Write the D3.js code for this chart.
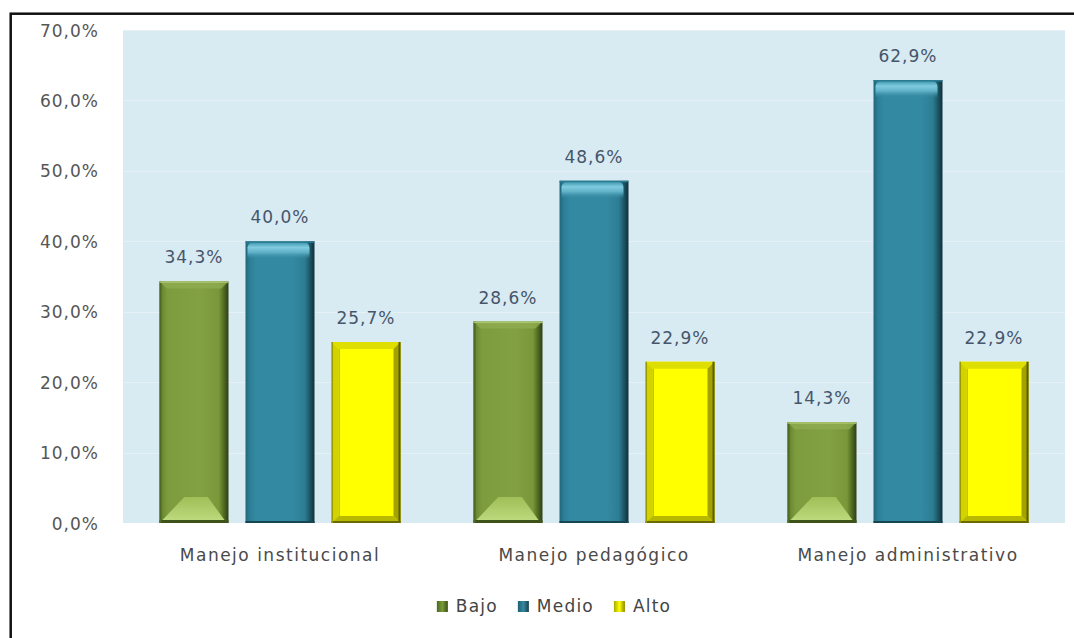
<!DOCTYPE html>
<html>
<head>
<meta charset="utf-8">
<script src="https://cdn.jsdelivr.net/npm/d3@7/dist/d3.min.js"></script>
<style>
  html, body { margin: 0; padding: 0; background: #ffffff; }
  svg { display: block; }
  text { font-family: "DejaVu Sans", Verdana, sans-serif; }
</style>
</head>
<body>
<svg id="chart" width="1074" height="638"></svg>
<script>
// Chart data
const categories = ["Manejo institucional", "Manejo pedagógico", "Manejo administrativo"];
const seriesNames = ["Bajo", "Medio", "Alto"];
const bajo = [34.3, 28.6, 14.3];
const medio = [40.0, 48.6, 62.9];
const alto = [25.7, 22.9, 22.9];
const yTicks = [0, 10, 20, 30, 40, 50, 60, 70];

const seriesValues = { Bajo: bajo, Medio: medio, Alto: alto };

const W = 1074, H = 638;
const plot = { left: 123, right: 1065, top: 30, bottom: 523 };

const svg = d3.select("#chart");
const defs = svg.append("defs");

const pct = v => d3.format(".1f")(v).replace(".", ",") + "%";

// Outer frame
svg.append("rect")
  .attr("x", 10.7).attr("y", 13.7)
  .attr("width", W + 20).attr("height", H + 20)
  .attr("fill", "#ffffff")
  .attr("stroke", "#111").attr("stroke-width", 2.5);

// Scales
const y = d3.scaleLinear().domain([0, 70]).range([plot.bottom, plot.top]);
const x0 = d3.scaleBand().domain(categories).range([plot.left, plot.right]).padding(0);
const x1 = d3.scaleBand().domain(seriesNames).range([0, x0.bandwidth()])
  .paddingInner(0.198).paddingOuter(0.4245);

// Plot background
svg.append("rect")
  .attr("x", plot.left).attr("y", plot.top)
  .attr("width", plot.right - plot.left).attr("height", plot.bottom - plot.top)
  .attr("fill", "#d8eaf2");

// Grid lines
svg.append("g")
  .selectAll("line")
  .data(yTicks.filter(t => t > 0))
  .join("line")
  .attr("x1", plot.left).attr("x2", plot.right)
  .attr("y1", d => Math.round(y(d)) + 0.5).attr("y2", d => Math.round(y(d)) + 0.5)
  .attr("stroke", "#e6f1f6").attr("stroke-width", 1);

const fontStack = "'DejaVu Sans', Verdana, sans-serif";

// Y axis labels
const yAxis = d3.axisLeft(y).tickValues(yTicks).tickFormat(pct).tickSize(0).tickPadding(0);
const yG = svg.append("g").attr("transform", `translate(${plot.left - 24},0)`).call(yAxis);
yG.select(".domain").remove();
yG.selectAll("text")
  .attr("font-size", 17).attr("fill", "#565656")
  .attr("letter-spacing", 1)
  .attr("dy", "0.36em")
  .style("font-family", fontStack);

// X axis labels
const xAxis = d3.axisBottom(x0).tickSize(0).tickPadding(0);
const xG = svg.append("g").attr("transform", `translate(0,${plot.bottom + 32})`).call(xAxis);
xG.select(".domain").remove();
xG.selectAll("text")
  .attr("font-size", 17).attr("fill", "#4a4a4a")
  .attr("letter-spacing", 1.5)
  .attr("dy", "0.36em")
  .style("font-family", fontStack);

// Gradients
function hGrad(id, stops) {
  const g = defs.append("linearGradient").attr("id", id)
    .attr("x1", 0).attr("y1", 0).attr("x2", 1).attr("y2", 0);
  stops.forEach(([o, c]) => g.append("stop").attr("offset", o).attr("stop-color", c));
}
function vGrad(id, stops) {
  const g = defs.append("linearGradient").attr("id", id)
    .attr("x1", 0).attr("y1", 0).attr("x2", 0).attr("y2", 1);
  stops.forEach(([o, c, op]) => g.append("stop").attr("offset", o).attr("stop-color", c)
    .attr("stop-opacity", op === undefined ? 1 : op));
}
hGrad("gBajo", [[0, "#56712a"], [0.05, "#6e8c34"], [0.12, "#7d9c3d"], [0.6, "#82a143"], [0.86, "#7a983a"], [0.93, "#526d22"], [1, "#2e3d14"]]);
vGrad("gBajoLow", [[0, "#9fbf58"], [1, "#bcd97c"]]);
hGrad("gMedio", [[0, "#21657a"], [0.06, "#2c7e95"], [0.15, "#3289a1"], [0.7, "#3389a1"], [0.86, "#2c7d93"], [0.94, "#1b5262"], [1, "#0e2f39"]]);
vGrad("gMedioTop", [[0, "#3d96ae"], [0.3, "#80cbdf"], [0.6, "#5fb0c6"], [1, "#3389a1", 0]]);
hGrad("gAlto", [[0, "#ffff00"], [1, "#ffff00"]]);
hGrad("gLegBajo", [[0, "#4d6820"], [0.5, "#7a9a3a"], [1, "#3b4d18"]]);
hGrad("gLegMedio", [[0, "#1f6072"], [0.5, "#3389a1"], [1, "#173f4b"]]);
hGrad("gLegAlto", [[0, "#a8a800"], [0.5, "#ffff00"], [1, "#8a8a00"]]);

// Bar drawing with bevelled faces
function drawBar(g, name, bx0, bx1, by0, by1) {
  const w = bx1 - bx0, h = by1 - by0;
  const poly = pts => pts.map(p => p.join(",")).join(" ");
  if (name === "Bajo") {
    g.append("rect").attr("x", bx0).attr("y", by0).attr("width", w).attr("height", h).attr("fill", "url(#gBajo)");
    const b = 7;
    g.append("polygon").attr("points", poly([[bx0, by0], [bx1, by0], [bx1 - b, by0 + b], [bx0 + b, by0 + b]]))
      .attr("fill", "#8eac50").attr("opacity", 0.8);
    const lh = Math.min(23, h / 2);
    g.append("polygon").attr("points", poly([[bx0 + 3, by1 - 3], [bx1 - 4, by1 - 3], [bx1 - 0.3 * w, by1 - 3 - lh], [bx0 + 0.36 * w, by1 - 3 - lh]]))
      .attr("fill", "url(#gBajoLow)");
    g.append("rect").attr("x", bx0).attr("y", by1 - 3).attr("width", w).attr("height", 3).attr("fill", "#3e531a");
    g.append("rect").attr("x", bx0).attr("y", by0).attr("width", 2).attr("height", h).attr("fill", "#4f6a22");
    g.append("rect").attr("x", bx0).attr("y", by0).attr("width", w).attr("height", 1.5).attr("fill", "#a9c46c");
  } else if (name === "Medio") {
    g.append("rect").attr("x", bx0).attr("y", by0).attr("width", w).attr("height", h).attr("fill", "url(#gMedio)");
    const th = Math.min(18, h / 3);
    g.append("path")
      .attr("d", `M${bx0 + 2},${by0 + th} L${bx0 + 2},${by0 + 6} Q${bx0 + 3},${by0 + 1} ${bx0 + 9},${by0 + 1} L${bx1 - 11},${by0 + 1} Q${bx1 - 5},${by0 + 1} ${bx1 - 5},${by0 + 7} L${bx1 - 5},${by0 + th} Z`)
      .attr("fill", "url(#gMedioTop)");
    g.append("rect").attr("x", bx0).attr("y", by0).attr("width", w).attr("height", 1.5).attr("fill", "#2a7a90");
    g.append("rect").attr("x", bx0).attr("y", by1 - 2).attr("width", w).attr("height", 2).attr("fill", "#174653");
  } else {
    g.append("rect").attr("x", bx0).attr("y", by0).attr("width", w).attr("height", h).attr("fill", "url(#gAlto)");
    const b = 7;
    g.append("polygon").attr("points", poly([[bx0, by0], [bx1, by0], [bx1 - b, by0 + b], [bx0 + b, by0 + b]])).attr("fill", "#dede00");
    g.append("polygon").attr("points", poly([[bx0, by0], [bx0 + b, by0 + b], [bx0 + b, by1 - b], [bx0, by1]])).attr("fill", "#d2d200");
    g.append("polygon").attr("points", poly([[bx1, by0], [bx1, by1], [bx1 - b, by1 - b], [bx1 - b, by0 + b]])).attr("fill", "#a3a300");
    g.append("polygon").attr("points", poly([[bx0, by1], [bx1, by1], [bx1 - b, by1 - b], [bx0 + b, by1 - b]])).attr("fill", "#b8b800");
    g.append("rect").attr("x", bx0 + b).attr("y", by0 + b).attr("width", 1.5).attr("height", h - 2 * b).attr("fill", "#c4c400");
    g.append("rect").attr("x", bx1 - 2).attr("y", by0).attr("width", 2).attr("height", h).attr("fill", "#5c5c00");
    g.append("rect").attr("x", bx0).attr("y", by1 - 2).attr("width", w).attr("height", 2).attr("fill", "#6a6a00");
    g.append("rect").attr("x", bx0).attr("y", by0).attr("width", 1.5).attr("height", h).attr("fill", "#9a9a00");
  }
}

// Bars and value labels
const barsG = svg.append("g");
const labelsG = svg.append("g");
categories.forEach((cat, i) => {
  seriesNames.forEach(s => {
    const v = seriesValues[s][i];
    const bx0 = x0(cat) + x1(s);
    const bx1 = bx0 + x1.bandwidth();
    const by0 = y(v), by1 = y(0);
    drawBar(barsG.append("g"), s, bx0, bx1, by0, by1);
    labelsG.append("text")
      .attr("x", (bx0 + bx1) / 2).attr("y", by0 - 18)
      .attr("text-anchor", "middle")
      .attr("font-size", 17).attr("letter-spacing", 1)
      .attr("fill", "#46566a")
      .text(pct(v));
  });
});

// Legend
const legendG = svg.append("g");
const legendFills = { Bajo: "url(#gLegBajo)", Medio: "url(#gLegMedio)", Alto: "url(#gLegAlto)" };
let lx = 0;
seriesNames.forEach(s => {
  const it = legendG.append("g");
  it.append("rect").attr("x", 0).attr("y", -11).attr("width", 11).attr("height", 11).attr("fill", legendFills[s]);
  const t = it.append("text").attr("x", 19).attr("y", 0)
    .attr("font-size", 17).attr("letter-spacing", 1.2).attr("fill", "#444")
    .text(s);
  const wItem = 19 + t.node().getComputedTextLength();
  it.attr("transform", `translate(${lx},0)`);
  lx += wItem + 20;
});
const legendW = lx - 20;
legendG.attr("transform", `translate(${554 - legendW / 2},612)`);
</script>
</body>
</html>
